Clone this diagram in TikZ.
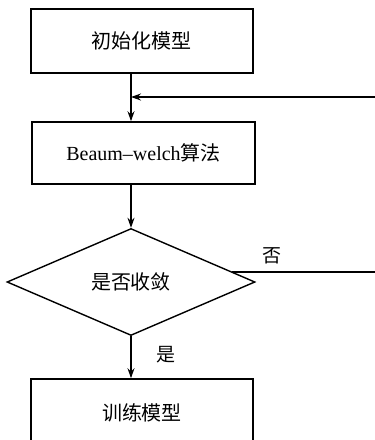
\documentclass[tikz,border=0pt]{standalone}
\usepackage{fontspec}
\setmainfont{Liberation Serif}
\newfontfamily\cjk{Noto Sans CJK SC}
\usetikzlibrary{shapes.geometric,arrows.meta,calc}
\begin{document}
\begin{tikzpicture}[x=1pt,y=-1pt,
  box/.style={draw,line width=1.6pt,minimum width=222pt,minimum height=64pt,inner sep=0pt,font=\fontsize{20}{24}\selectfont},
  dia/.style={draw,line width=1.4pt,diamond,minimum width=248pt,minimum height=107pt,inner sep=0pt,font=\fontsize{20}{24}\selectfont},
  arr/.style={line width=1.3pt,-{Stealth[length=10pt,width=7pt]}},
  conn/.style={line width=1.3pt},
  lbl/.style={font=\fontsize{19}{22}\selectfont\cjk,inner sep=0pt}]
\useasboundingbox (0,0) rectangle (375,440);
\clip (0,0) rectangle (375,440);
\fill[white] (0,0) rectangle (375,440);
\node[box] (b1) at (142,41) {\cjk 初始化模型};
\node[box,minimum width=223pt,minimum height=62pt] (b2) at (143.5,153) {Beaum--welch\cjk 算法};
\node[dia] (d) at (131,282) {\cjk 是否收敛};
\node[box,minimum height=68pt] (b3) at (142,413) {\cjk 训练模型};
\coordinate (r1) at (376,97);
\coordinate (j) at (131,97);
\coordinate (dn) at ($(d.east)!0.187!(d.north)$);
\draw[arr] (b1.south -| j) -- (b2.north -| j);
\draw[arr] (r1) -- (j);
\draw[arr] (b2.south -| j) -- (d.north);
\draw[conn] (dn) -- (dn -| r1);
\draw[arr] (d.south) -- (b3.north -| j);
\node[lbl] (no) at (272,256) {否};
\node[lbl] (yes) at (166,355) {是};
\end{tikzpicture}
\end{document}
